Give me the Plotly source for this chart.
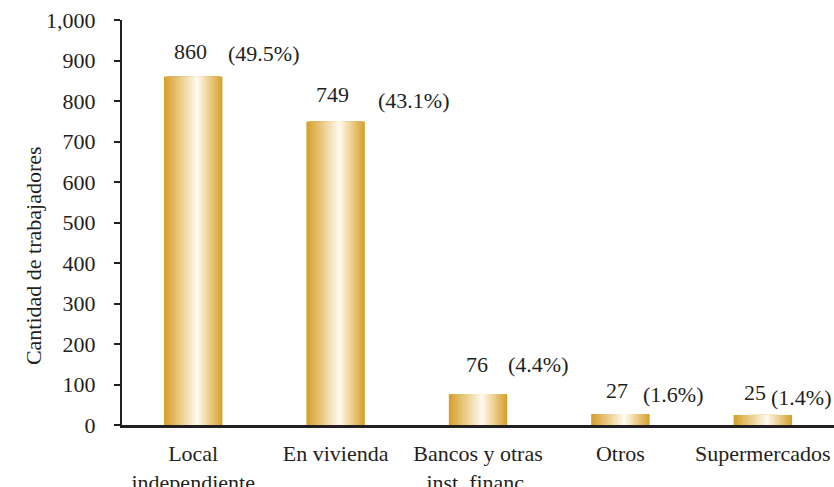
import plotly.graph_objects as go

categories = ["Local<br>independiente", "En vivienda", "Bancos y otras<br>inst. financ.", "Otros", "Supermercados"]
values = [860, 749, 76, 27, 25]
shares = ["(49.5%)", "(43.1%)", "(4.4%)", "(1.6%)", "(1.4%)"]
y_ticks = [0, 100, 200, 300, 400, 500, 600, 700, 800, 900, 1000]
y_title = "Cantidad de trabajadores"

# label placement (pixels)
value_dx = [-3, -3, -1, -3, -8]
value_dy = [25, 27, 30, 24, 22]
share_dx = [70, 78, 60, 53, 38]
share_dy = [23, 21, 30, 20, 17]

INK = "#231f20"
FONT = "Liberation Serif"
FS = 22
BAR_W = 0.41
PEAK = 0.57  # relative position of highlight
N_LAYERS = 40

edge = (213, 160, 44)
mid = (238, 210, 150)
light = (255, 252, 242)


def mix(a, b, t):
    return tuple(round(a[i] + (b[i] - a[i]) * t) for i in range(3))


def grad(t):  # t: 0 at highlight, 1 at edge
    if t < 0.45:
        c = mix(light, mid, t / 0.45)
    else:
        c = mix(mid, edge, (t - 0.45) / 0.55)
    return "rgb(%d,%d,%d)" % c


fig = go.Figure()
for i in range(N_LAYERS):
    a = 1 - i / N_LAYERS
    w = a * BAR_W
    off = -BAR_W / 2 + PEAK * BAR_W - a * PEAK * BAR_W
    fig.add_trace(go.Bar(
        x=categories, y=values, width=w, offset=off,
        marker=dict(color=grad(a), line=dict(width=0)),
        hoverinfo="skip", showlegend=False,
    ))

annotations = []
for i, c in enumerate(categories):
    annotations.append(dict(x=c, y=values[i], xref="x", yref="y", text=str(values[i]),
                            showarrow=False, xshift=value_dx[i], yshift=value_dy[i],
                            font=dict(family=FONT, size=FS, color=INK)))
    annotations.append(dict(x=c, y=values[i], xref="x", yref="y", text=shares[i],
                            showarrow=False, xshift=share_dx[i], yshift=share_dy[i],
                            font=dict(family=FONT, size=FS, color=INK)))
annotations.append(dict(x=-0.125, y=0.417, xref="paper", yref="paper", text=y_title,
                        textangle=-90, showarrow=False, xanchor="center", yanchor="middle",
                        font=dict(family=FONT, size=FS, color=INK)))

fig.update_layout(
    width=834, height=487,
    margin=dict(l=122, r=0, t=20, b=62, autoexpand=False),
    barmode="overlay",
    plot_bgcolor="white", paper_bgcolor="white",
    font=dict(family=FONT, size=FS, color=INK),
    annotations=annotations,
    showlegend=False,
)
fig.update_xaxes(
    showline=True, linecolor=INK, linewidth=2.5, ticks="", showgrid=False,
    tickfont=dict(family=FONT, size=FS, color=INK), ticklabelstandoff=7,
    automargin=False, fixedrange=True,
)
fig.update_yaxes(
    range=[0, 1000], tickvals=y_ticks, tickformat=",d",
    showline=True, linecolor=INK, linewidth=2, ticks="outside", ticklen=6, tickwidth=2,
    tickcolor=INK, showgrid=False, zeroline=False,
    tickfont=dict(family=FONT, size=FS, color=INK), ticklabelstandoff=14,
    automargin=False, fixedrange=True,
)

fig.write_html("out.html", config={"displayModeBar": False},
               post_script="document.body.style.margin='0';document.body.style.overflow='hidden';")
